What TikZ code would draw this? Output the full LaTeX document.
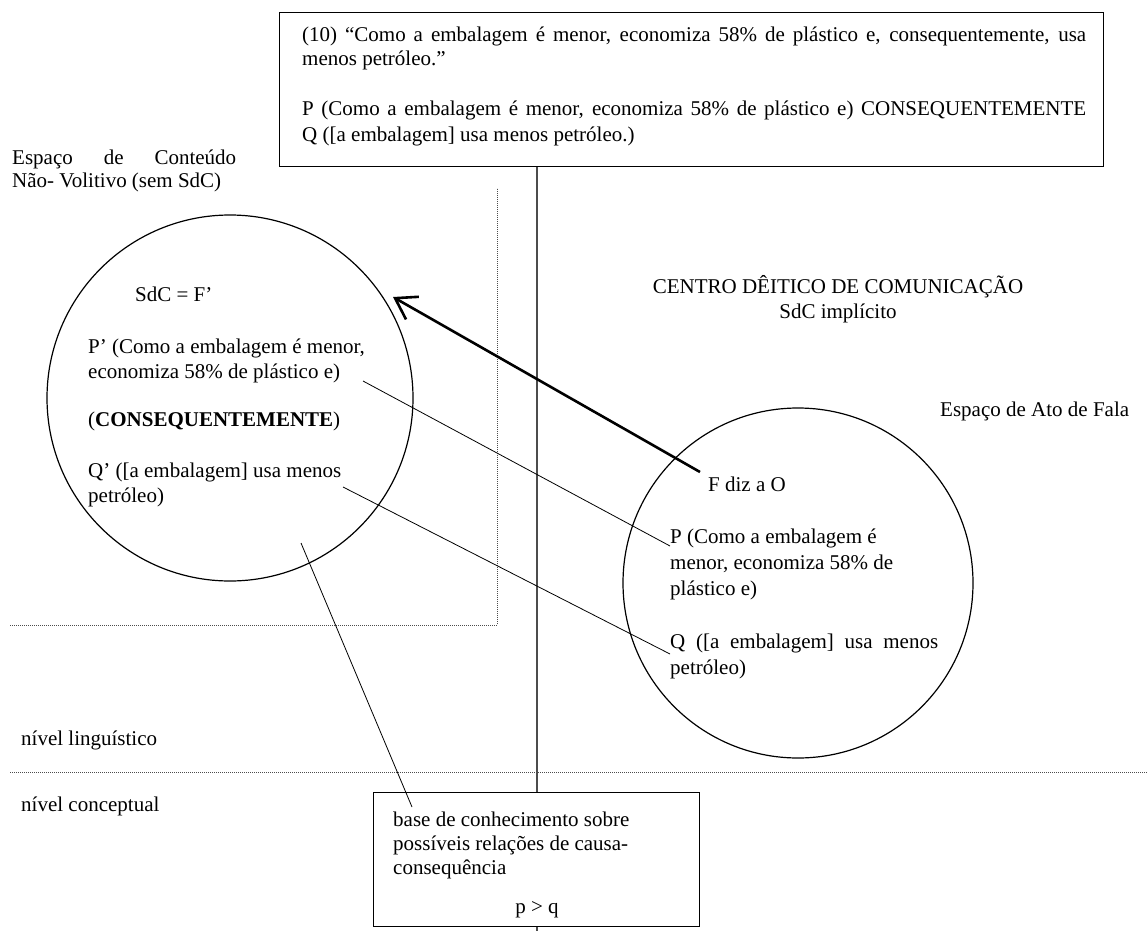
\documentclass[tikz,border=0pt]{standalone}
\usepackage{fontspec}
\setmainfont{Liberation Serif}
\usetikzlibrary{arrows.meta}

\begin{document}
\begin{tikzpicture}[x=1pt,y=-1pt,
  txt/.style={anchor=base west, inner sep=0pt, font=\fontsize{21pt}{25pt}\selectfont},
  ctxt/.style={txt, anchor=base},
  frame/.style={draw, line width=1.3pt, inner sep=0pt, anchor=north west},
  space/.style={draw, circle, line width=1.2pt, inner sep=0pt},
  link/.style={line width=0.8pt},
  axisline/.style={line width=1.6pt, black!70},
  levels/.style={line width=0.8pt, black!70, dash pattern=on 0.8pt off 1.2pt},
  speech/.style={line width=2.6pt, -{Straight Barb[length=20pt,width=26pt]}}]
\useasboundingbox (0,0) rectangle (1147,931);

% central axis (drawn first so that the lower box hides it)
\coordinate (axisbot) at (537,931);
\node[frame, minimum width=824pt, minimum height=154pt] (topbox) at (279,12) {};
\draw[axisline] (axisbot |- topbox.south) -- (axisbot);

% example sentence
\node[txt] (ex1) at (302,42) {\makebox[784pt][s]{(10) “Como a embalagem é menor, economiza 58\% de plástico e, consequentemente, usa}};
\node[txt] (ex2) at (302,66) {menos petróleo.”};
\node[txt] (ex3) at (302,116) {\makebox[784pt][s]{P (Como a embalagem é menor, economiza 58\% de plástico e) CONSEQUENTEMENTE}};
\node[txt] (ex4) at (302,141) {Q ([a embalagem] usa menos petróleo.)};

% levels and content space borders
\draw[levels] (10,625) -- (497,625) -- (497,188);
\draw[levels] (10,772) -- (1147,772);

% content space
\node[txt] (cs1) at (12,164) {\makebox[224pt][s]{Espaço de Conteúdo}};
\node[txt] (cs2) at (12,187) {Não- Volitivo (sem SdC)};
\node[space, minimum size=366pt] (cleft) at (230,398) {};
\node[txt] (sdc) at (135,301) {SdC = F’};
\node[txt] (lp1) at (88,353) {P’ (Como a embalagem é menor,};
\node[txt] (lp2) at (88,378) {economiza 58\% de plástico e)};
\node[txt] (lcon) at (88,426) {(\textbf{CONSEQUENTEMENTE})};
\node[txt] (lq1) at (88,477) {Q’ ([a embalagem] usa menos};
\node[txt] (lq2) at (88,502) {petróleo)};

% deictic centre
\node[ctxt] (cdc1) at (838,293) {CENTRO DÊITICO DE COMUNICAÇÃO};
\node[ctxt] (cdc2) at (838,318) {SdC implícito};

% speech act space
\node[txt] (sa) at (940,416) {Espaço de Ato de Fala};
\node[space, minimum size=350pt] (cright) at (798,583) {};
\node[txt] (fdiz) at (708,491) {F diz a O};
\node[txt] (rp1) at (670,543) {P (Como a embalagem é};
\node[txt] (rp2) at (670,569) {menor, economiza 58\% de};
\node[txt] (rp3) at (670,595) {plástico e)};
\node[txt] (rq1) at (670,648) {\makebox[268pt][s]{Q ([a embalagem] usa menos}};
\node[txt] (rq2) at (670,674) {petróleo)};

% level labels
\node[txt] (lling) at (21,745) {nível linguístico};
\node[txt] (lconc) at (21,811) {nível conceptual};

% conceptual knowledge base
\node[frame, fill=white, minimum width=326pt, minimum height=134pt] (kbox) at (373,792) {};
\node[txt] (kb1) at (393,826) {base de conhecimento sobre};
\node[txt] (kb2) at (393,850) {possíveis relações de causa-};
\node[txt] (kb3) at (393,874) {consequência};
\node[ctxt] (kb4) at (537,913) {p > q};

% connectors
\coordinate (lpend) at (363,381);
\coordinate (lqend) at (343,487);
\coordinate (lbase) at (301,543);
\coordinate (tip) at (393,297);
\draw[link] (lpend) -- ([shift={(0,3)}]rp1.base west);
\draw[link] (lqend) -- ([shift={(0,6)}]rq1.base west);
\draw[link] (lbase) -- ([shift={(19,-19)}]kb1.base west);
\draw[speech] ([shift={(-8,-19)}]fdiz.base west) -- (tip);
\end{tikzpicture}
\end{document}
